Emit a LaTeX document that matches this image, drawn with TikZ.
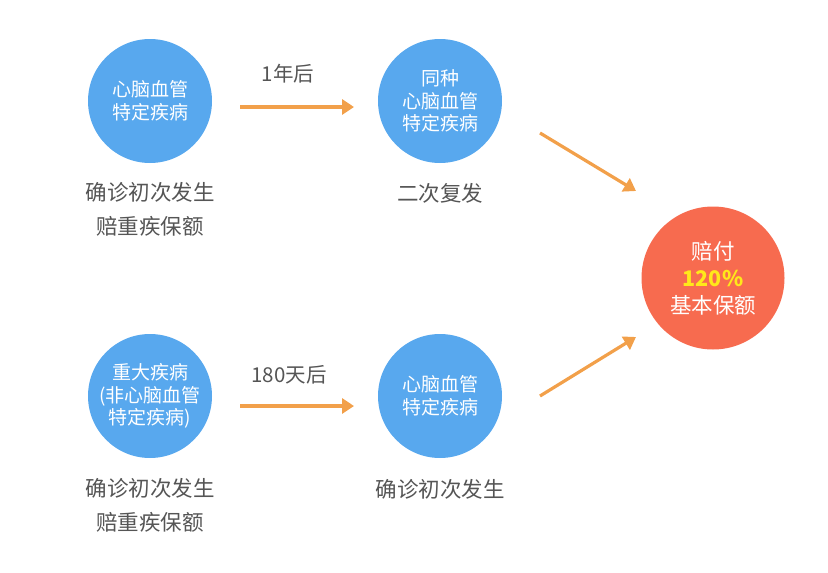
\documentclass[tikz,border=0pt]{standalone}
\usepackage{fontspec}
\setmainfont{Noto Sans CJK SC}
\usetikzlibrary{arrows.meta}
\definecolor{cblue}{HTML}{58A8EE}
\definecolor{corange}{HTML}{F2A04A}
\definecolor{cred}{HTML}{F76B4F}
\definecolor{cgray}{HTML}{555555}
\definecolor{cyel}{HTML}{FFE81A}
\begin{document}
\begin{tikzpicture}[x=1pt,y=-1pt,
  bluec/.style={circle,fill=cblue,minimum size=124pt,inner sep=0pt,text=white,align=center,font=\fontsize{19}{22.5}\selectfont},
  redc/.style={circle,fill=cred,minimum size=143pt,inner sep=0pt,text=white,align=center,font=\fontsize{21.5}{27}\selectfont},
  captxt/.style={text=cgray,align=center,font=\fontsize{21.5}{34}\selectfont},
  lbl/.style={text=cgray,font=\fontsize{20.5}{22}\selectfont},
  arr/.style={draw=corange,line width=3.2pt,-{Triangle[length=12pt,width=15pt]}}]
\useasboundingbox (0,0) rectangle (828,573);
\node[bluec] (c1) at (150,101) {心脑血管\\特定疾病};
\node[bluec] (c2) at (440,101) {同种\\心脑血管\\特定疾病};
\node[bluec] (c3) at (150,396) {重大疾病\\(非心脑血管\\特定疾病)};
\node[bluec] (c4) at (440,396) {心脑血管\\特定疾病};
\node[redc] (r) at (713,278) {赔付\\\textcolor{cyel}{\textbf{120\%}}\\基本保额};
\node[captxt] (t1) at (150,209) {确诊初次发生\\赔重疾保额};
\node[captxt] (t2) at (440,193) {二次复发};
\node[captxt] (t3) at (150,505) {确诊初次发生\\赔重疾保额};
\node[captxt] (t4) at (440,489) {确诊初次发生};
\coordinate (a1s) at (240,107); \coordinate (a1e) at (354,107);
\coordinate (a2s) at (240,406); \coordinate (a2e) at (354,406);
\coordinate (d1s) at (540,133); \coordinate (d1e) at (636,191);
\coordinate (d2s) at (540,396); \coordinate (d2e) at (636,337);
\draw[arr] (a1s) -- (a1e);
\draw[arr] (a2s) -- (a2e);
\draw[arr] (d1s) -- (d1e);
\draw[arr] (d2s) -- (d2e);
\node[lbl] (l1) at (288,74) {1年后};
\node[lbl] (l2) at (289,375) {180天后};
\end{tikzpicture}
\end{document}
